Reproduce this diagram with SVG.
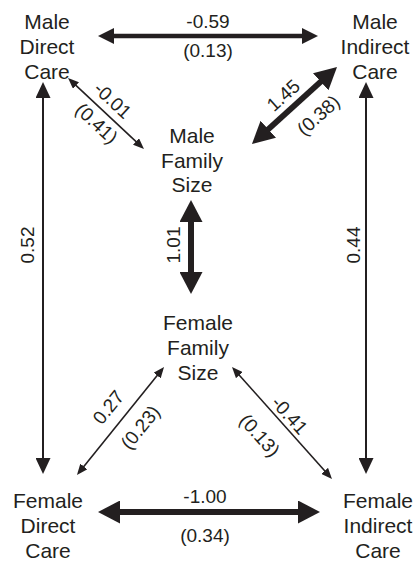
<svg xmlns="http://www.w3.org/2000/svg" width="416" height="565" viewBox="0 0 416 565">
<style>
.n{font-family:"Liberation Sans",Arial,sans-serif;font-size:21px;fill:#231f20;text-anchor:middle}
.l{font-family:"Liberation Sans",Arial,sans-serif;font-size:19px;fill:#231f20;text-anchor:middle}
.c{stroke:#231f20;fill:none}
</style>
<defs>
<marker id="a16" markerUnits="userSpaceOnUse" viewBox="0 0 16 16" refX="2" refY="8" markerWidth="16" markerHeight="16" orient="auto-start-reverse"><path d="M0,0 L16,8 L0,16 z" fill="#231f20"/></marker>
<marker id="a22" markerUnits="userSpaceOnUse" viewBox="0 0 22 23" refX="2" refY="11.5" markerWidth="22" markerHeight="23" orient="auto-start-reverse"><path d="M0,0 L22,11.5 L0,23 z" fill="#231f20"/></marker>
<marker id="av" markerUnits="userSpaceOnUse" viewBox="0 0 16 15" refX="2" refY="7.5" markerWidth="16" markerHeight="15" orient="auto-start-reverse"><path d="M0,0 L16,7.5 L0,15 z" fill="#231f20"/></marker>
<marker id="as" markerUnits="userSpaceOnUse" viewBox="0 0 11 9" refX="2" refY="4.5" markerWidth="11" markerHeight="9" orient="auto-start-reverse"><path d="M0,0 L11,4.5 L0,9 z" fill="#231f20"/></marker>
</defs>
<g id="connectors">
<line class="c" x1="112" y1="36" x2="304" y2="36" stroke-width="4.5" marker-start="url(#a16)" marker-end="url(#a16)"/>
<line class="c" x1="118" y1="512" x2="300" y2="512" stroke-width="6" marker-start="url(#a22)" marker-end="url(#a22)"/>
<line class="c" x1="191" y1="220" x2="191" y2="274" stroke-width="6" marker-start="url(#a22)" marker-end="url(#a22)"/>
<line class="c" x1="43" y1="96" x2="43" y2="460" stroke-width="2" marker-start="url(#av)" marker-end="url(#av)"/>
<line class="c" x1="366" y1="96" x2="366" y2="460" stroke-width="2" marker-start="url(#av)" marker-end="url(#av)"/>
<line class="c" x1="74.6" y1="84.1" x2="137.4" y2="142.9" stroke-width="1.6" marker-start="url(#as)" marker-end="url(#as)"/>
<line class="c" x1="266.8" y1="130.6" x2="322.2" y2="80.4" stroke-width="6" marker-start="url(#a22)" marker-end="url(#a22)"/>
<line class="c" x1="82.6" y1="468" x2="158.4" y2="374" stroke-width="1.6" marker-start="url(#as)" marker-end="url(#as)"/>
<line class="c" x1="238" y1="373.7" x2="326" y2="472.3" stroke-width="1.6" marker-start="url(#as)" marker-end="url(#as)"/>
<text class="l" x="208" y="28">-0.59</text>
<text class="l" x="208" y="57">(0.13)</text>
<text class="l" x="205" y="503">-1.00</text>
<text class="l" x="205" y="542">(0.34)</text>
<text class="l" transform="translate(27,245) rotate(-90)" x="0" y="7">0.52</text>
<text class="l" transform="translate(353,245) rotate(-90)" x="0" y="7">0.44</text>
<text class="l" transform="translate(173,245) rotate(-90)" x="0" y="7">1.01</text>
<text class="l" transform="translate(113,100) rotate(43)" x="0" y="7">-0.01</text>
<text class="l" transform="translate(97,123) rotate(43)" x="0" y="7">(0.41)</text>
<text class="l" transform="translate(283,95) rotate(-42)" x="0" y="7">1.45</text>
<text class="l" transform="translate(318,115) rotate(-42)" x="0" y="7">(0.38)</text>
<text class="l" transform="translate(108,407) rotate(-51)" x="0" y="7">0.27</text>
<text class="l" transform="translate(140,427) rotate(-51)" x="0" y="7">(0.23)</text>
<text class="l" transform="translate(290,415) rotate(48)" x="0" y="7">-0.41</text>
<text class="l" transform="translate(260,435) rotate(48)" x="0" y="7">(0.13)</text>
</g>
<g id="male-direct-care"><text class="n" x="47" y="29">Male</text><text class="n" x="47" y="54">Direct</text><text class="n" x="47" y="79">Care</text></g>
<g id="male-indirect-care"><text class="n" x="375" y="29">Male</text><text class="n" x="375" y="54">Indirect</text><text class="n" x="375" y="79">Care</text></g>
<g id="male-family-size"><text class="n" x="192" y="143">Male</text><text class="n" x="192" y="168">Family</text><text class="n" x="192" y="192">Size</text></g>
<g id="female-family-size"><text class="n" x="198" y="330">Female</text><text class="n" x="198" y="355">Family</text><text class="n" x="198" y="380">Size</text></g>
<g id="female-direct-care"><text class="n" x="48" y="508">Female</text><text class="n" x="48" y="533">Direct</text><text class="n" x="48" y="558">Care</text></g>
<g id="female-indirect-care"><text class="n" x="378" y="508">Female</text><text class="n" x="378" y="533">Indirect</text><text class="n" x="378" y="558">Care</text></g>
</svg>
